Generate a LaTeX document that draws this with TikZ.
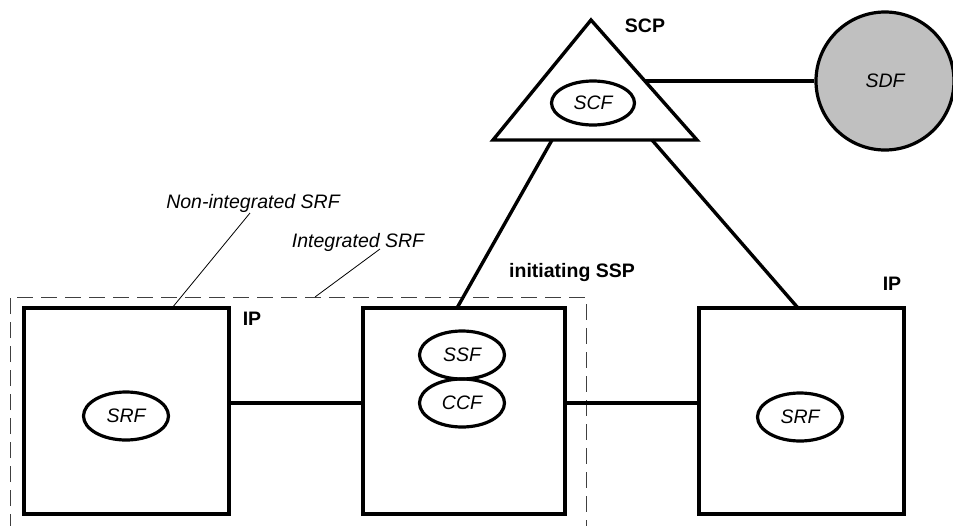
\documentclass[tikz,border=0pt]{standalone}
\usepackage{fontspec}
\setmainfont{Liberation Sans}
\usetikzlibrary{shapes.geometric}
\definecolor{sdfgray}{RGB}{192,192,192}
\begin{document}
\begin{tikzpicture}[x=1pt,y=-1pt,
  box/.style={draw, line width=3.4pt, rectangle, inner sep=0pt, minimum height=206pt},
  func/.style={draw, ellipse, line width=3.2pt, inner sep=0pt, minimum width=85pt, minimum height=48pt, font=\fontsize{19.5}{22}\selectfont\itshape},
  lbl/.style={font=\fontsize{19.5}{22}\selectfont\bfseries, inner sep=0pt},
  note/.style={font=\fontsize{19.5}{22}\selectfont\itshape, inner sep=0pt},
  link/.style={line width=3.4pt},
  leader/.style={line width=0.8pt},
  dashframe/.style={line width=1pt, black!75, dash pattern=on 16pt off 8pt}
]
\useasboundingbox (0,0) rectangle (953,525);

% dashed frame (integrated SRF)
\draw[dashframe] (10,530) -- (10,297) -- (586,297) -- (586,530);

% boxes
\node[box, minimum width=205pt] (lbox) at (126.5,411) {};
\node[box, minimum width=202pt] (mbox) at (464,411) {};
\node[box, minimum width=205pt] (rbox) at (801.5,411) {};

% functions
\node[func] (srf1) at (126,416) {SRF};
\node[func] (ssf) at (462,355) {SSF};
\node[func] (ccf) at (462,403) {CCF};
\node[func] (srf2) at (800,417) {SRF};

% SCP triangle
\coordinate (apex) at (591,20);
\coordinate (bl) at (493,140);
\coordinate (br) at (697,140);
\draw[link, line join=miter] (apex) -- (bl) -- (br) -- cycle;
\node[func, minimum width=83pt, minimum height=44pt] (scf) at (593,103) {SCF};

% SDF
\node[draw, circle, line width=3.2pt, fill=sdfgray, minimum size=138pt, inner sep=0pt,
      font=\fontsize{19.5}{22}\selectfont\itshape] (sdf) at (885,81) {SDF};

% connectors
\coordinate (tr) at (645,81);
\draw[link] (tr) -- (sdf.west);
\coordinate (tbl) at (552,140);
\coordinate (tbr) at (652,140);
\coordinate (mtop) at (457,308);
\coordinate (rtop) at (798,308);
\draw[link] (tbl) -- (mtop);
\draw[link] (tbr) -- (rtop);
\draw[link] (lbox.east |- ccf) -- (mbox.west |- ccf);
\draw[link] (mbox.east |- ccf) -- (rbox.west |- ccf);

% annotations
\node[note] (nonint) at (253,203) {Non-integrated SRF};
\node[note] (integ) at (358,242) {Integrated SRF};
\coordinate (n1) at (250,213);
\coordinate (n2) at (172,308);
\draw[leader] (n1) -- (n2);
\coordinate (i1) at (380,249);
\coordinate (i2) at (315,297);
\draw[leader] (i1) -- (i2);

% labels
\node[lbl] (scp) at (645,26) {SCP};
\node[lbl] (ip1) at (252,319) {IP};
\node[lbl, anchor=west] (issp) at (509,272) {initiating SSP};
\node[lbl] (ip2) at (892,284) {IP};
\end{tikzpicture}
\end{document}
